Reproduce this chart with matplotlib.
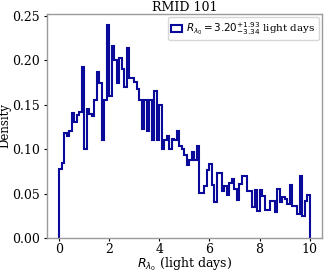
import numpy as np
import matplotlib
matplotlib.use('Agg')
import matplotlib.pyplot as plt

plt.rcParams['font.family'] = ['DejaVu Serif']

# posterior histogram of the lag (light days), 0.1-day bins from 0 to 10
bin_edges = np.linspace(0, 10, 101)
density = [
    0.078, 0.084, 0.118, 0.115, 0.120, 0.141, 0.131, 0.138, 0.142, 0.192,
    0.100, 0.145, 0.139, 0.137, 0.155, 0.187, 0.174, 0.110, 0.155, 0.240,
    0.160, 0.216, 0.200, 0.174, 0.203, 0.190, 0.170, 0.214, 0.180, 0.180,
    0.176, 0.168, 0.155, 0.123, 0.155, 0.120, 0.155, 0.110, 0.165, 0.110,
    0.150, 0.100, 0.110, 0.115, 0.100, 0.111, 0.110, 0.120, 0.104, 0.100,
    0.093, 0.082, 0.088, 0.097, 0.088, 0.104, 0.051, 0.051, 0.058, 0.077,
    0.083, 0.060, 0.040, 0.073, 0.073, 0.053, 0.058, 0.048, 0.062, 0.066,
    0.055, 0.043, 0.061, 0.070, 0.070, 0.053, 0.053, 0.035, 0.054, 0.030,
    0.054, 0.047, 0.031, 0.031, 0.042, 0.042, 0.029, 0.055, 0.040, 0.046,
    0.044, 0.038, 0.060, 0.036, 0.036, 0.027, 0.070, 0.025, 0.042, 0.048,
]
lag_med, lag_up, lag_lo = 3.20, 1.93, 3.34
title = 'RMID 101'

fig = plt.figure(figsize=(3.27, 2.73), dpi=100)
ax = fig.add_axes([0.143, 0.128, 0.842, 0.821])

label = r'$R_{\lambda_0} = %.2f^{+%.2f}_{-%.2f}$ light days' % (lag_med, lag_up, lag_lo)
ax.hist(bin_edges[:-1], bins=bin_edges, weights=density, histtype='step',
        color='#0a0a9a', linewidth=1.5, label=label)

ax.set_title(title, fontsize=9, pad=2)
ax.set_xlabel(r'$R_{\lambda_0}$ (light days)', fontsize=9, labelpad=0)
ax.set_ylabel('Density', fontsize=8.5)
ax.yaxis.set_label_coords(-0.127, 0.5)
ax.set_xticks([0, 2, 4, 6, 8, 10])
ax.set_yticks([0.0, 0.05, 0.10, 0.15, 0.20, 0.25])
ax.tick_params(labelsize=9, length=2.5, width=0.8, pad=1)
ax.tick_params(axis='y', pad=2.5)
for sp in ax.spines.values():
    sp.set_color('#9a9a9a')
    sp.set_linewidth(1.0)

ax.legend(loc='upper right', fontsize=7.5, handlelength=1.1, borderpad=0.3,
          handletextpad=0.4, borderaxespad=0.3)

fig.savefig('out.png', dpi=100)
